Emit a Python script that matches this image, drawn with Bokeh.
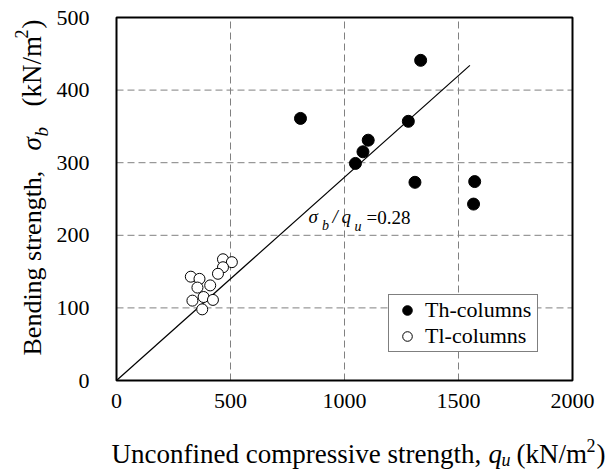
from bokeh.plotting import figure
from bokeh.models import Range1d, Label, Legend, LegendItem, FixedTicker, BoxAnnotation
from bokeh.embed import file_html
from bokeh.resources import INLINE
import math

# ---- data ----
th_qu = [1334, 807, 1280, 1104, 1081, 1048, 1309, 1571, 1566]
th_sb = [441, 361, 357, 331, 315, 299, 273, 274, 243]
tl_qu = [326, 364, 355, 411, 467, 506, 467, 445, 333, 382, 423, 376]
tl_sb = [143, 140, 128, 131, 167, 163, 156, 147, 110, 115, 111, 98]
ratio = 0.28
line_qu = [0, 1550]
x_ticks = [0, 500, 1000, 1500, 2000]
y_ticks = [0, 100, 200, 300, 400, 500]

FONT = "'Liberation Serif', 'Times New Roman', serif"
W, H = 616, 471
FL, FR, FT, FB = 116, 572, 17, 380  # plot-box edges in page px
XMAX, YMAX = 2000, 500
BASE = 0.37  # anchor-to-baseline offset of a Label, in em

# data <-> page pixel mapping (the frame covers the whole canvas)
def dx(px):
    return (px - FL) / (FR - FL) * XMAX

def dy(py):
    return (FB - py) / (FB - FT) * YMAX

p = figure(width=W, height=H, output_backend="svg", toolbar_location=None,
           x_range=Range1d(dx(0), dx(W)), y_range=Range1d(dy(H), dy(0)),
           min_border=0, min_border_left=0, min_border_right=0,
           min_border_top=0, min_border_bottom=0)
p.background_fill_color = "white"
p.border_fill_color = "white"
p.outline_line_color = None
p.xgrid.visible = False
p.ygrid.visible = False

for ax in (p.xaxis[0], p.yaxis[0]):
    ax.fixed_location = 0
    ax.axis_line_color = None
    ax.major_tick_line_color = None
    ax.minor_tick_line_color = None
    ax.major_label_text_font = FONT
    ax.major_label_text_font_size = "22px"
    ax.major_label_text_color = "black"
p.xaxis[0].ticker = FixedTicker(ticks=x_ticks)
p.yaxis[0].ticker = FixedTicker(ticks=y_ticks)
p.xaxis[0].major_label_standoff = 7
p.yaxis[0].major_label_standoff = 21

# dashed grid inside the plot box
gx = x_ticks[1:-1]
gy = y_ticks[1:-1]
grid_style = dict(line_color="#808080", line_dash="7 4", line_width=1)
p.segment(x0=gx, y0=[y_ticks[0]] * len(gx), x1=gx, y1=[y_ticks[-1]] * len(gx), **grid_style)
p.segment(x0=[x_ticks[0]] * len(gy), y0=gy, x1=[x_ticks[-1]] * len(gy), y1=gy, **grid_style)

# fit line
p.line(line_qu, [ratio * q for q in line_qu], line_color="black", line_width=1.2)

r_th = p.scatter(th_qu, th_sb, size=12, marker="circle", fill_color="black", line_color="black")
r_tl = p.scatter(tl_qu, tl_sb, size=11, marker="circle", fill_color="white", line_color="black", line_width=1)

# plot box border
p.add_layout(BoxAnnotation(left=x_ticks[0], right=x_ticks[-1], bottom=y_ticks[0], top=y_ticks[-1],
                           fill_alpha=0, line_color="black", line_width=2, line_alpha=1))

legend = Legend(items=[LegendItem(label="Th-columns", renderers=[r_th]),
                       LegendItem(label="Tl-columns", renderers=[r_tl])],
                location=(388, H - 352))
legend.label_text_font = FONT
legend.label_text_font_size = "22px"
legend.label_text_color = "black"
legend.border_line_color = "black"
legend.border_line_width = 1
legend.background_fill_color = "white"
legend.background_fill_alpha = 1
legend.padding = 2
legend.spacing = 0
legend.margin = 0
legend.glyph_width = 32
legend.glyph_height = 24
legend.label_height = 24
legend.label_width = 110
legend.label_standoff = 2
p.add_layout(legend)

def piece(text, px, py, style="normal", size=19, rotated=False):
    """Place text whose baseline starts at page pixel (px, py)."""
    off = BASE * size
    if rotated:
        x, y, angle = px - off, py, math.pi / 2
    else:
        x, y, angle = px, py - off, 0.0
    p.add_layout(Label(x=dx(x), y=dy(y), text=text, angle=angle,
                       text_font=FONT, text_font_size=f"{size}px",
                       text_font_style=style, text_color="black",
                       text_align="left", text_baseline="alphabetic"))

# annotation sigma_b / q_u = 0.28
piece("σ", 308, 223, "italic", 19)
piece("b", 321.5, 230, "italic", 14)
piece("/", 332, 223, "italic", 19)
piece("q", 341, 223, "italic", 19)
piece("u", 354, 231, "italic", 14)
piece("=0.28", 366, 224, "normal", 19)

# x-axis title
piece("Unconfined compressive strength,", 111, 463, "normal", 27)
piece("q", 488, 463, "italic", 27)
piece("u", 501, 466.5, "italic", 18)
piece("(kN/m", 516, 463, "normal", 27)
piece("2", 586, 452, "normal", 18)
piece(")", 596, 463, "normal", 27)

# y-axis title (rotated, reads bottom to top)
piece("Bending strength,", 41.7, 355, "normal", 26, True)
piece("σ", 41.7, 150, "italic", 27, True)
piece("b", 48, 136, "italic", 19, True)
piece("(kN/m", 41.7, 106, "normal", 27, True)
piece("2", 28, 38, "normal", 18, True)
piece(")", 41.7, 28, "normal", 27, True)

open("out.html", "w").write(file_html(p, INLINE))
